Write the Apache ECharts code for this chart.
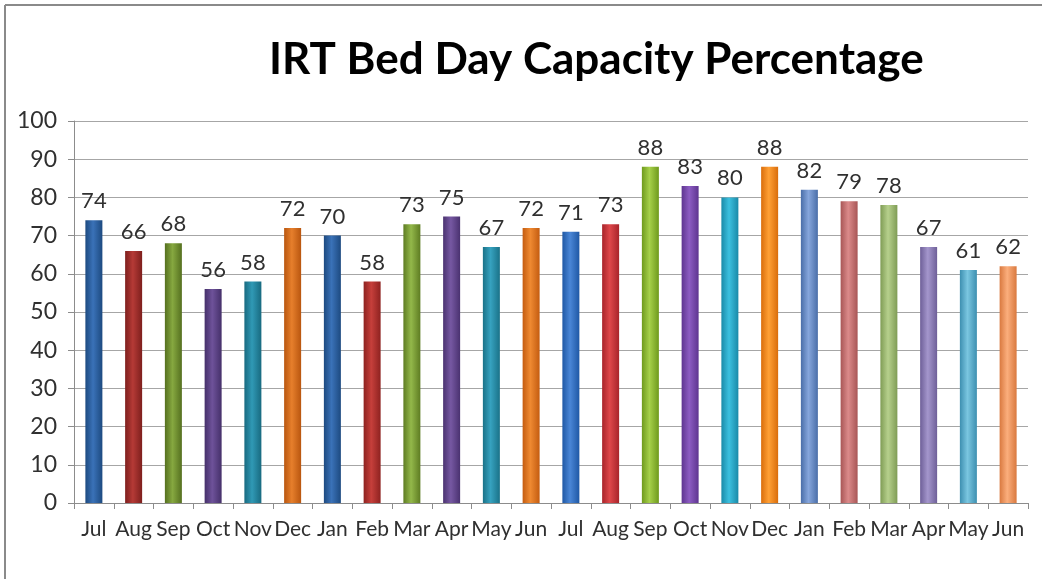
<!DOCTYPE html>
<html>
<head>
<meta charset="utf-8">
<script src="https://cdn.jsdelivr.net/npm/echarts@6/dist/echarts.min.js"></script>
<style>
  html, body { margin: 0; padding: 0; background: #fff; }
  #main { width: 1042px; height: 579px; }
</style>
</head>
<body>
<div id="main"></div>
<script type="text/javascript">
    // months, two financial years
    var months = ['Jul', 'Aug', 'Sep', 'Oct', 'Nov', 'Dec', 'Jan', 'Feb', 'Mar', 'Apr', 'May', 'Jun',
                  'Jul', 'Aug', 'Sep', 'Oct', 'Nov', 'Dec', 'Jan', 'Feb', 'Mar', 'Apr', 'May', 'Jun'];
    var capacity = [74, 66, 68, 56, 58, 72, 70, 58, 73, 75, 67, 72,
                    71, 73, 88, 83, 80, 88, 82, 79, 78, 67, 61, 62];
    var yTicks = [0, 10, 20, 30, 40, 50, 60, 70, 80, 90, 100];

    // bar colours, one per point (edge, middle)
    var barColors = [
        ['#1d4a80', '#3a72b8'], ['#7e1f1d', '#b53a36'], ['#55701f', '#86a840'], ['#45306a', '#6e529a'],
        ['#186a80', '#3099b5'], ['#b9560f', '#e67f2c'], ['#1d4a80', '#3a72b8'], ['#8e2220', '#c63f3b'],
        ['#5e7c22', '#93b84a'], ['#4a3270', '#7658a2'], ['#1a7288', '#36a2bf'], ['#c45c10', '#ef8a32'],
        ['#1f58a5', '#4a86d6'], ['#a8242a', '#de474a'], ['#6f9a1d', '#a6d04a'], ['#5e3590', '#8c5cc2'],
        ['#1a8aa8', '#3cc0df'], ['#d96d0b', '#ffa035'], ['#4a6ea8', '#86a6dc'], ['#a85656', '#db8a8a'],
        ['#7f9c55', '#b6d08c'], ['#6e5f98', '#a496cc'], ['#3d8fb0', '#7ac6e0'], ['#d9793f', '#fbae7c']
    ];

    var barData = [];
    for (var i = 0; i < capacity.length; i++) {
        var c = barColors[i];
        barData.push({
            value: capacity[i],
            itemStyle: {
                color: {
                    type: 'linear', x: 0, y: 0, x2: 1, y2: 0,
                    colorStops: [
                        {offset: 0, color: c[0]},
                        {offset: 0.45, color: c[1]},
                        {offset: 1, color: c[0]}
                    ]
                }
            }
        });
    }

    var myChart = echarts.init(document.getElementById('main'));
    var font = 'Lato, "Open Sans", sans-serif';
    var option = {
        backgroundColor: '#fff',
        animation: false,
        title: {
            text: 'IRT Bed Day Capacity Percentage',
            left: 264,
            top: 33,
            textStyle: {
                fontFamily: font,
                fontWeight: 'bold',
                fontSize: 44,
                color: '#000'
            }
        },
        graphic: [
            {type: 'line', shape: {x1: 5, y1: 5, x2: 1042, y2: 5}, style: {stroke: '#8a8a8a', lineWidth: 2}},
            {type: 'line', shape: {x1: 5, y1: 5, x2: 5, y2: 579}, style: {stroke: '#8a8a8a', lineWidth: 2}}
        ],
        grid: {
            left: 74,
            right: 14,
            top: 121,
            bottom: 76
        },
        xAxis: {
            type: 'category',
            data: months,
            axisLine: {lineStyle: {color: '#8c8c8c', width: 1}},
            axisTick: {show: true, length: 6, lineStyle: {color: '#8c8c8c'}},
            axisLabel: {
                interval: 0,
                margin: 16,
                fontFamily: font,
                fontSize: 21,
                color: '#303030'
            }
        },
        yAxis: {
            type: 'value',
            min: yTicks[0],
            max: yTicks[yTicks.length - 1],
            interval: 10,
            axisLine: {show: true, lineStyle: {color: '#8c8c8c', width: 1}},
            axisTick: {show: true, length: 6, lineStyle: {color: '#8c8c8c'}},
            splitLine: {lineStyle: {color: '#a6a6a6', width: 1}},
            axisLabel: {
                margin: 17,
                fontFamily: font,
                fontSize: 23,
                color: '#303030'
            }
        },
        series: [
            {
                type: 'bar',
                barWidth: 17,
                data: barData,
                label: {
                    show: true,
                    position: 'top',
                    distance: 8,
                    fontFamily: font,
                    fontSize: 22,
                    color: '#303030'
                }
            }
        ]
    };
    myChart.setOption(option);
</script>
</body>
</html>
